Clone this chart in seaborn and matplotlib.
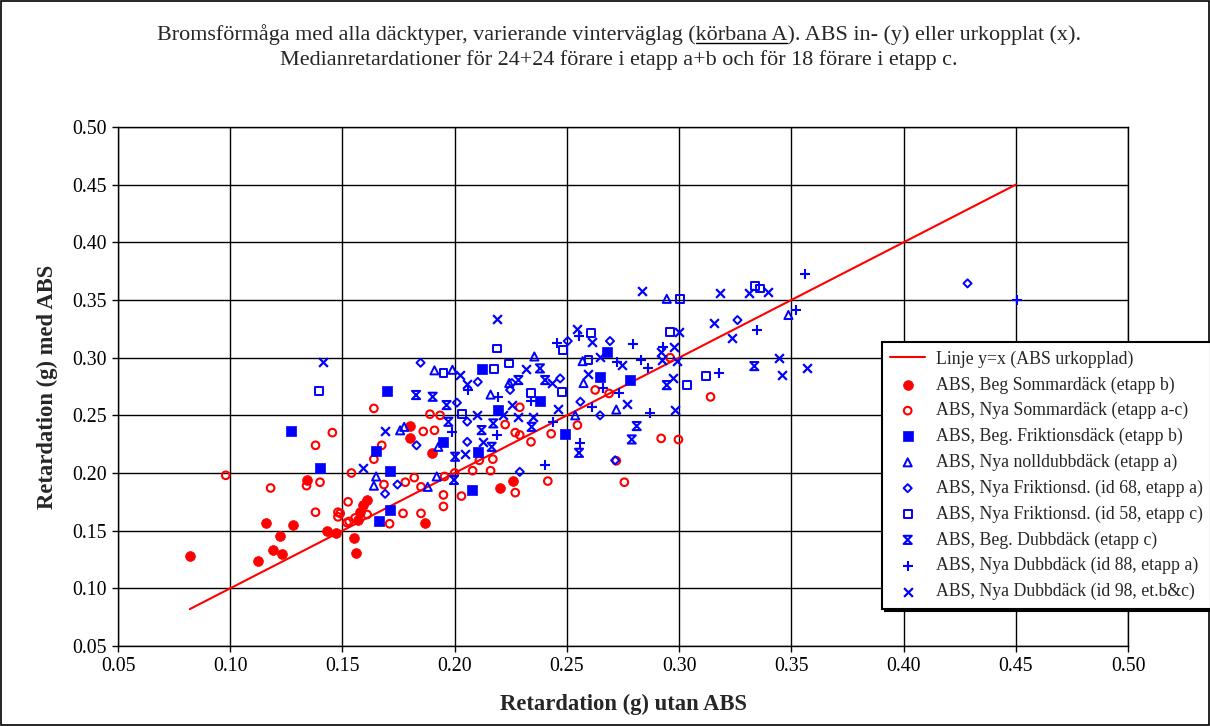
import matplotlib
matplotlib.use("Agg")
import matplotlib.pyplot as plt
import seaborn as sns
import numpy as np
import pandas as pd
from matplotlib.path import Path
from matplotlib.lines import Line2D
from matplotlib.patches import Rectangle

# ---------------- text ----------------
title_pre = "Bromsförmåga med alla däcktyper, varierande vinterväglag ("
title_ul = "körbana A"
title_post = "). ABS in- (y) eller urkopplat (x)."
title_line2 = "Medianretardationer för 24+24 förare i etapp a+b och för 18 förare i etapp c."
xlabel = "Retardation (g) utan ABS"
ylabel = "Retardation (g) med ABS"
ticks = [0.05, 0.10, 0.15, 0.20, 0.25, 0.30, 0.35, 0.40, 0.45, 0.50]

line_label = "Linje y=x (ABS urkopplad)"
line_x = [0.082, 0.45]
line_y = [0.082, 0.45]

# ---------------- data ----------------
beg_sommar_x = [0.082, 0.1125, 0.116, 0.119, 0.122, 0.123, 0.128, 0.134, 0.143, 0.147, 0.155,
                0.156, 0.157, 0.158, 0.159, 0.161, 0.180, 0.180, 0.187, 0.190, 0.220, 0.226]
beg_sommar_y = [0.128, 0.124, 0.157, 0.133, 0.145, 0.130, 0.155, 0.194, 0.150, 0.148, 0.144,
                0.131, 0.159, 0.166, 0.172, 0.177, 0.241, 0.230, 0.157, 0.217, 0.187, 0.193]

nya_sommar_x = [0.098, 0.118, 0.134, 0.138, 0.138, 0.140, 0.1455, 0.148, 0.148, 0.149, 0.152,
                0.1525, 0.153, 0.154, 0.1556, 0.161, 0.164, 0.164, 0.1675, 0.1685, 0.171, 0.177,
                0.178, 0.182, 0.185, 0.185, 0.186, 0.189, 0.191, 0.1935, 0.195, 0.195, 0.1955,
                0.200, 0.203, 0.208, 0.211, 0.216, 0.217, 0.2225, 0.227, 0.227, 0.229, 0.229,
                0.234, 0.2415, 0.243, 0.2547, 0.2626, 0.2688, 0.272, 0.2756, 0.292, 0.296,
                0.2997, 0.314]
nya_sommar_y = [0.198, 0.187, 0.189, 0.166, 0.224, 0.192, 0.235, 0.166, 0.162, 0.165, 0.157,
                0.175, 0.158, 0.200, 0.161, 0.164, 0.256, 0.212, 0.224, 0.190, 0.156, 0.165,
                0.192, 0.196, 0.188, 0.165, 0.236, 0.251, 0.237, 0.250, 0.181, 0.171, 0.197,
                0.200, 0.180, 0.202, 0.211, 0.202, 0.212, 0.242, 0.235, 0.183, 0.233, 0.257,
                0.227, 0.193, 0.234, 0.2415, 0.272, 0.269, 0.2106, 0.192, 0.230, 0.300,
                0.229, 0.266]

beg_frikt_x = [0.127, 0.140, 0.1665, 0.165, 0.170, 0.171, 0.171, 0.195, 0.2076, 0.2105, 0.212,
               0.2195, 0.238, 0.249, 0.2648, 0.2677, 0.278]
beg_frikt_y = [0.236, 0.204, 0.158, 0.219, 0.271, 0.2015, 0.168, 0.227, 0.185, 0.218, 0.290,
               0.255, 0.262, 0.2335, 0.283, 0.305, 0.2805]

nolldubb_x = [0.164, 0.165, 0.1757, 0.1775, 0.188, 0.191, 0.192, 0.1927, 0.199, 0.216, 0.2243,
              0.2355, 0.2537, 0.257, 0.2574, 0.272, 0.2945, 0.3487]
nolldubb_y = [0.189, 0.197, 0.237, 0.240, 0.188, 0.289, 0.197, 0.2227, 0.2895, 0.268, 0.278,
              0.301, 0.250, 0.297, 0.278, 0.255, 0.351, 0.337]

frikt68_x = [0.169, 0.1745, 0.183, 0.1848, 0.201, 0.2056, 0.2056, 0.2103, 0.2247, 0.2255, 0.229,
             0.247, 0.2504, 0.256, 0.2648, 0.2692, 0.2715, 0.326, 0.4285]
frikt68_y = [0.182, 0.190, 0.224, 0.2956, 0.261, 0.2445, 0.227, 0.279, 0.272, 0.278, 0.201,
             0.282, 0.3144, 0.2618, 0.250, 0.3144, 0.211, 0.3326, 0.3644]

frikt58_x = [0.1397, 0.195, 0.2031, 0.2177, 0.2187, 0.2243, 0.234, 0.2477, 0.2483, 0.2596,
             0.2606, 0.296, 0.3004, 0.3037, 0.3119, 0.334, 0.336]
frikt58_y = [0.2713, 0.287, 0.2508, 0.290, 0.308, 0.295, 0.269, 0.2704, 0.3066, 0.2979,
             0.3216, 0.3225, 0.3508, 0.2762, 0.284, 0.362, 0.360]

beg_dubb_x = [0.1828, 0.1902, 0.1964, 0.1972, 0.1997, 0.2002, 0.212, 0.2165, 0.2172, 0.2284,
              0.2343, 0.238, 0.2403, 0.2554, 0.2789, 0.2811, 0.2945, 0.3335]
beg_dubb_y = [0.2676, 0.2661, 0.2589, 0.2444, 0.194, 0.2141, 0.2372, 0.2227, 0.243, 0.2806,
              0.240, 0.2907, 0.2806, 0.2175, 0.2291, 0.2407, 0.2762, 0.2927]

dubb88_x = [0.1986, 0.2061, 0.2187, 0.2195, 0.234, 0.2403, 0.244, 0.2455, 0.2554, 0.2559,
            0.2613, 0.2659, 0.2722, 0.273, 0.2793, 0.2829, 0.2863, 0.287, 0.293, 0.3178,
            0.3346, 0.352, 0.3559, 0.4505]
dubb88_y = [0.2358, 0.2719, 0.233, 0.2661, 0.2626, 0.2071, 0.2444, 0.3124, 0.3188, 0.2256,
            0.2574, 0.2734, 0.2965, 0.269, 0.3118, 0.298, 0.2907, 0.2517, 0.3095, 0.2864,
            0.324, 0.3413, 0.3725, 0.350]

dubb98_x = [0.1414, 0.159, 0.169, 0.2024, 0.2046, 0.2053, 0.2098, 0.2125, 0.2187, 0.2217,
            0.2254, 0.2284, 0.232, 0.235, 0.2434, 0.2462, 0.2544, 0.2596, 0.2611, 0.2648,
            0.2744, 0.277, 0.2833, 0.292, 0.2922, 0.2974, 0.2979, 0.2982, 0.2992, 0.3001,
            0.3157, 0.318, 0.3237, 0.3312, 0.3394, 0.3446, 0.3457, 0.3569]
dubb98_y = [0.296, 0.2047, 0.2364, 0.2849, 0.2162, 0.277, 0.250, 0.2271, 0.3332, 0.250,
            0.2589, 0.2487, 0.290, 0.2487, 0.278, 0.2552, 0.3246, 0.2855, 0.3138, 0.3008,
            0.2935, 0.2595, 0.358, 0.305, 0.298, 0.2826, 0.3095, 0.2545, 0.297, 0.322,
            0.3303, 0.3558, 0.3167, 0.3558, 0.3572, 0.300, 0.2849, 0.2907]

series_labels = [
    "ABS, Beg Sommardäck (etapp b)",
    "ABS, Nya Sommardäck (etapp a-c)",
    "ABS, Beg. Friktionsdäck (etapp b)",
    "ABS, Nya nolldubbdäck (etapp a)",
    "ABS, Nya Friktionsd. (id 68, etapp a)",
    "ABS, Nya Friktionsd. (id 58, etapp c)",
    "ABS, Beg. Dubbdäck (etapp c)",
    "ABS, Nya Dubbdäck (id 88, etapp a)",
    "ABS, Nya Dubbdäck (id 98, et.b&c)",
]
series_data = [
    (beg_sommar_x, beg_sommar_y), (nya_sommar_x, nya_sommar_y), (beg_frikt_x, beg_frikt_y),
    (nolldubb_x, nolldubb_y), (frikt68_x, frikt68_y), (frikt58_x, frikt58_y),
    (beg_dubb_x, beg_dubb_y), (dubb88_x, dubb88_y), (dubb98_x, dubb98_y),
]

# ---------------- style ----------------
RED = "#ff0000"
BLUE = "#0000ff"
hourglass = Path([(-1, 1), (1, 1), (-1, -1), (1, -1), (-1, 1)],
                 [Path.MOVETO, Path.LINETO, Path.LINETO, Path.LINETO, Path.CLOSEPOLY])
styles = [
    dict(marker="o", s=50, facecolor=RED, edgecolor=RED, linewidth=0.5),
    dict(marker="o", s=30, facecolor="none", edgecolor=RED, linewidth=1.5),
    dict(marker="s", s=42, facecolor=BLUE, edgecolor=BLUE, linewidth=0.5),
    dict(marker="^", s=34, facecolor="none", edgecolor=BLUE, linewidth=1.4),
    dict(marker="D", s=17, facecolor="none", edgecolor=BLUE, linewidth=1.4),
    dict(marker="s", s=32, facecolor="none", edgecolor=BLUE, linewidth=1.4),
    dict(marker=hourglass, s=34, facecolor="none", edgecolor=BLUE, linewidth=1.5),
    dict(marker="+", s=48, color=BLUE, linewidth=1.5),
    dict(marker="x", s=40, color=BLUE, linewidth=1.6),
]

sns.set_theme(style="ticks")
plt.rcParams["font.family"] = ["Liberation Serif", "DejaVu Serif"]

W, H = 1210, 726
fig = plt.figure(figsize=(W / 100, H / 100), dpi=100, facecolor="white")
ax = fig.add_axes([118 / W, 1 - 646 / H, (1128 - 118) / W, (646 - 127) / H])
ax.set_facecolor("white")

sns.lineplot(x=line_x, y=line_y, ax=ax, color=RED, linewidth=1.5, label=line_label, legend=False)
for (xs, ys), lab, st in zip(series_data, series_labels, styles):
    sns.scatterplot(x=xs, y=ys, ax=ax, label=lab, legend=False, zorder=3, **st)

ax.set_xlim(0.05, 0.50)
ax.set_ylim(0.05, 0.50)
ax.set_xticks(ticks)
ax.set_yticks(ticks)
ax.set_xticklabels([f"{t:.2f}" for t in ticks])
ax.set_yticklabels([f"{t:.2f}" for t in ticks])
ax.grid(True, color="black", linewidth=1.0)
ax.set_axisbelow(True)
for sp in ax.spines.values():
    sp.set_visible(True)
    sp.set_color("black")
    sp.set_linewidth(1.0)
ax.tick_params(axis="both", direction="out", length=4, width=1, colors="black",
               labelsize=14.3, pad=4)

ax.set_xlabel(xlabel, fontsize=16.3, fontweight="bold", va="center")
ax.set_ylabel(ylabel, fontsize=16.3, fontweight="bold", va="center", ha="center")
ax.xaxis.set_label_coords(0.5, -(704 - 646) / (646 - 127))
ax.yaxis.set_label_coords((47 - 118) / (1128 - 118), 0.5)

# legend
handles, labels = ax.get_legend_handles_labels()
leg = fig.legend(handles, labels, loc="upper left",
                 bbox_to_anchor=(882 / W, 1 - 342 / H), bbox_transform=fig.transFigure,
                 borderaxespad=0, fontsize=12.8, frameon=True, fancybox=False,
                 edgecolor="black", framealpha=1, labelspacing=0.48, handlelength=1.95,
                 handletextpad=0.6, borderpad=0.47, scatterpoints=1,
                 shadow={"color": "black", "alpha": 1.0})
leg.get_frame().set_linewidth(1.5)

# title with underlined part
title_fs = 15.9
full1 = title_pre + title_ul + title_post
t1 = fig.text(0.5116, 1 - 35 / H, full1, ha="center", va="center", fontsize=title_fs)
fig.text(0.5116, 1 - 60 / H, title_line2, ha="center", va="center", fontsize=title_fs)
fig.canvas.draw()
r = fig.canvas.get_renderer()
bb = t1.get_window_extent(r)
tmp = fig.text(0, 0, title_pre, fontsize=title_fs)
wpre = tmp.get_window_extent(r).width
tmp.set_text(title_ul)
wul = tmp.get_window_extent(r).width
tmp.remove()
x0 = (bb.x0 + wpre) / W
x1 = (bb.x0 + wpre + wul) / W
yul = (bb.y0 + 2) / H
fig.add_artist(Line2D([x0, x1], [yul, yul], transform=fig.transFigure, color="black", linewidth=1.0))

# figure border
fig.add_artist(Rectangle((0.0008, 0.0012), 0.9984, 0.9976, transform=fig.transFigure,
                         fill=False, edgecolor="black", linewidth=1.2))

fig.savefig("out.png", dpi=100, facecolor="white")
